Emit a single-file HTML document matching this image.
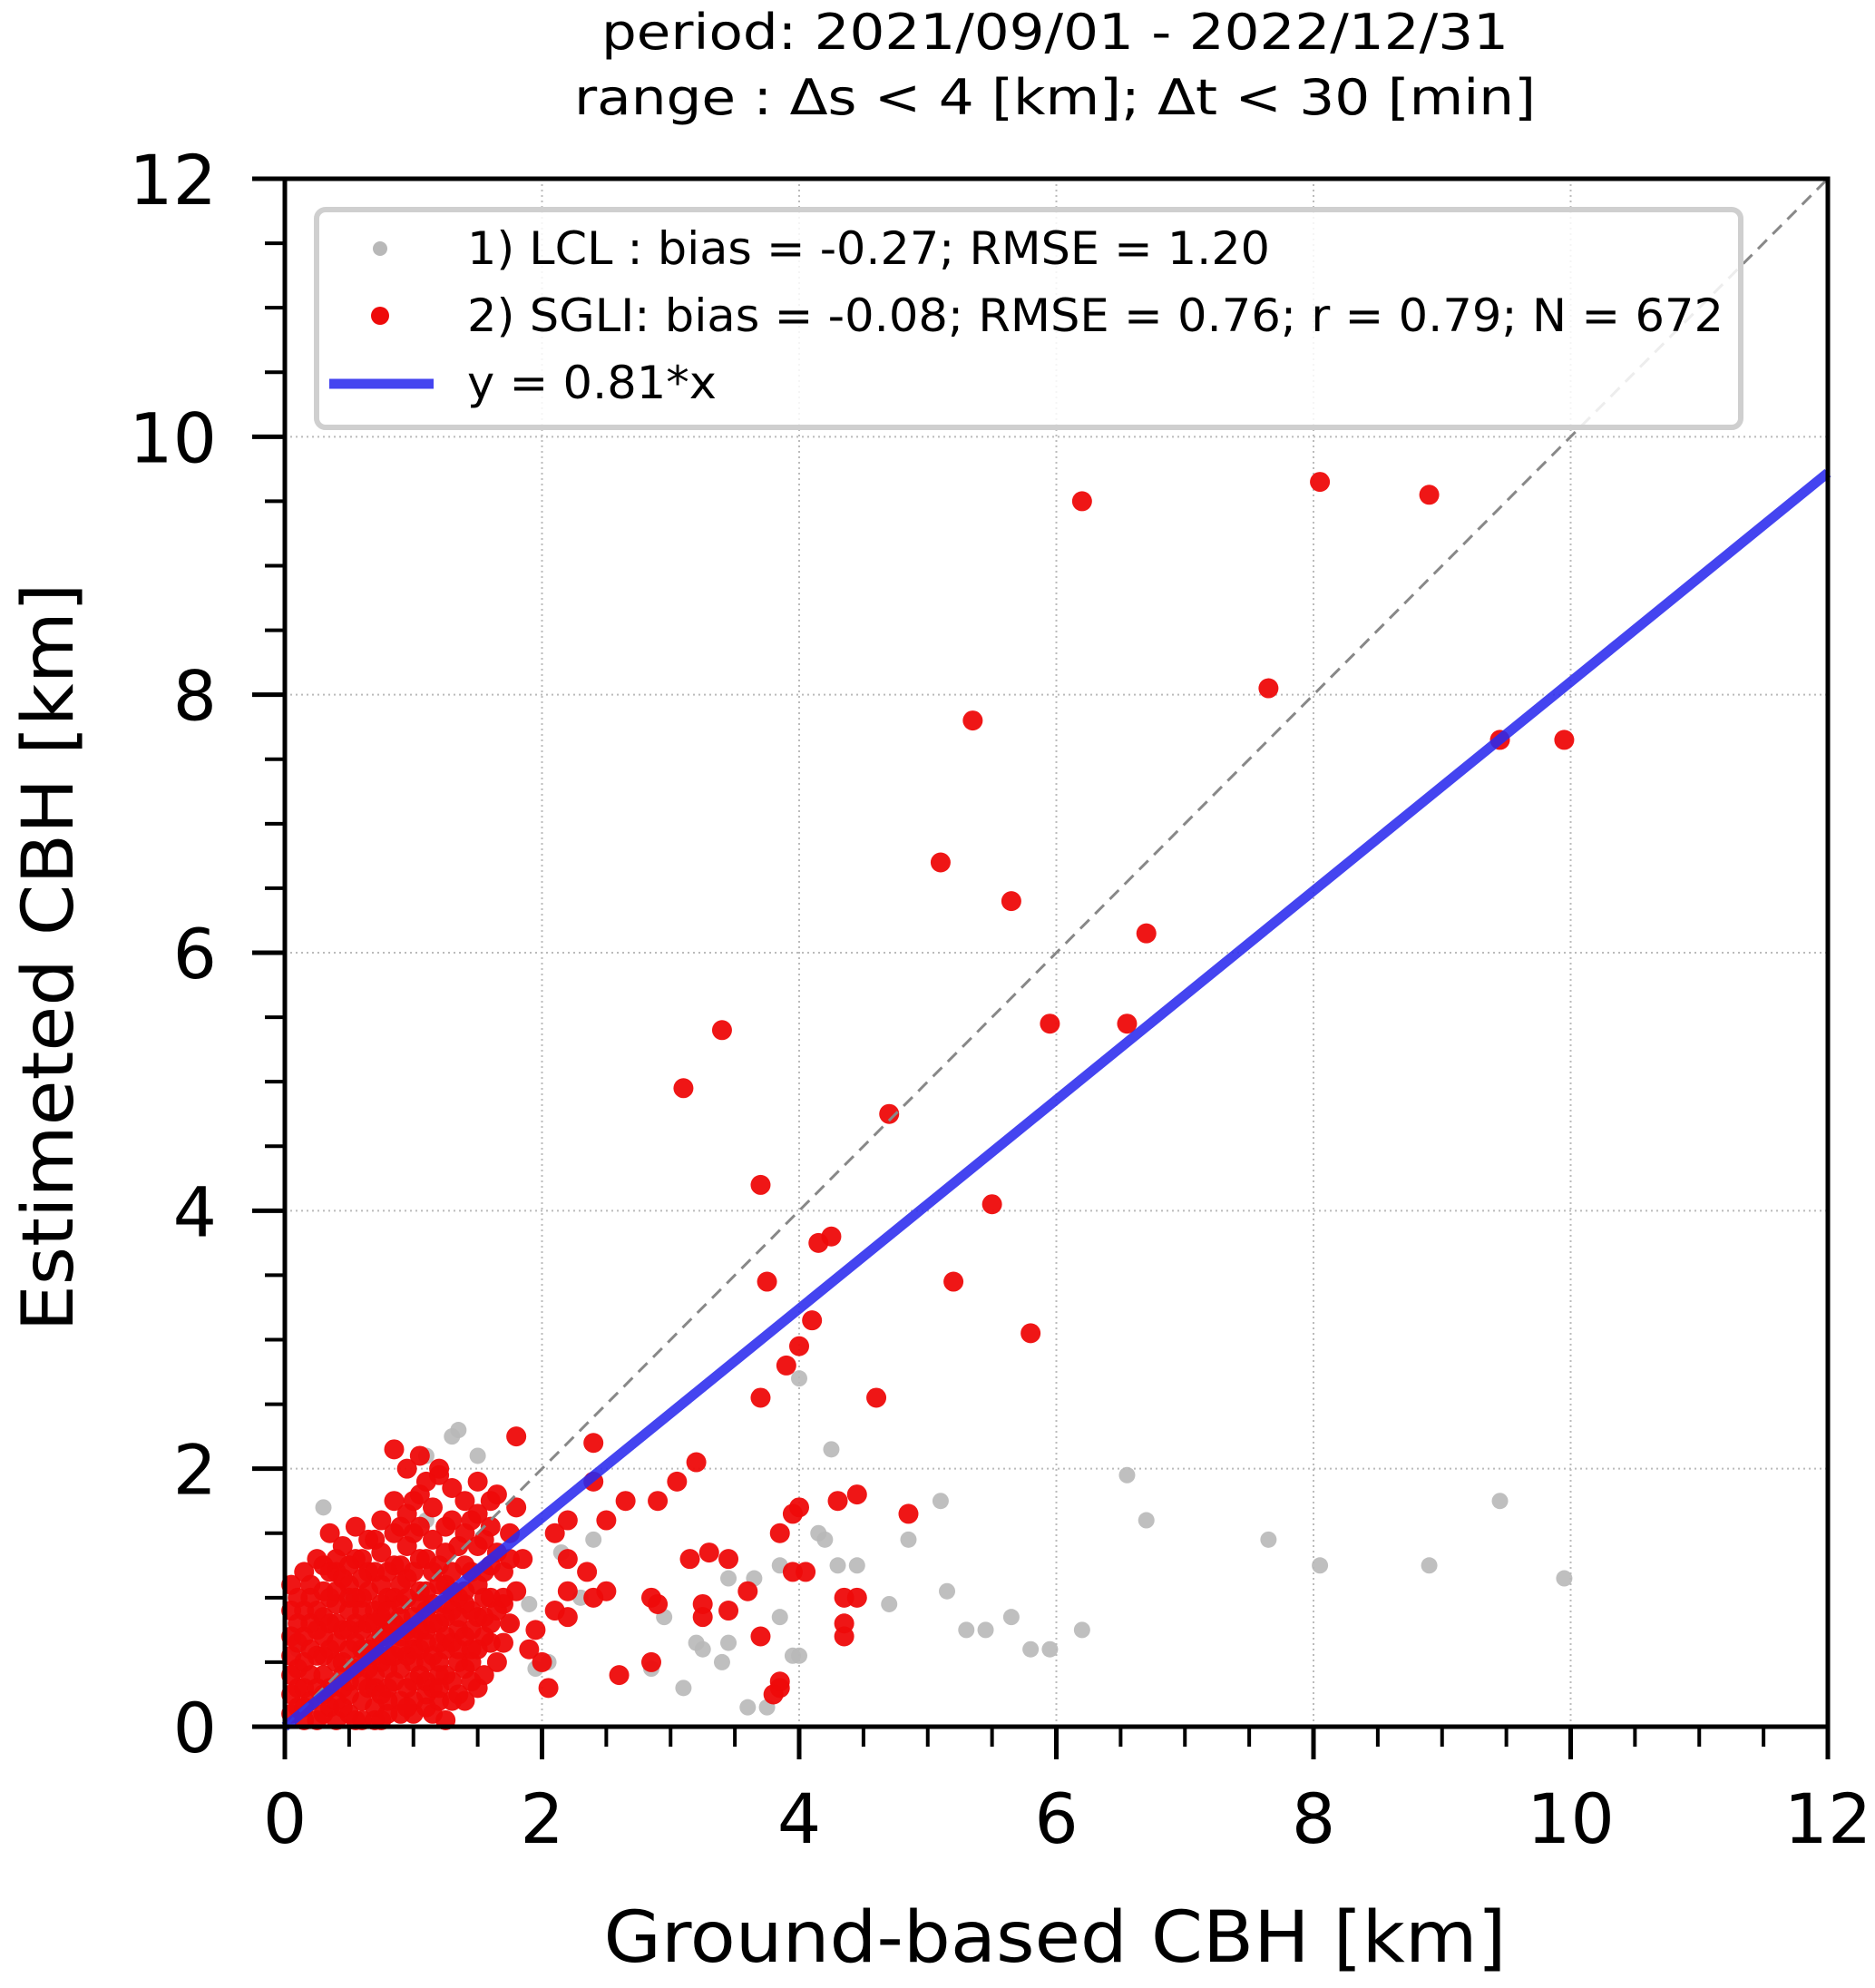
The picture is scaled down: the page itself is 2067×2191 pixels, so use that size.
<!DOCTYPE html>
<html><head><meta charset="utf-8"><style>
html,body{margin:0;padding:0;background:#fff;}
svg{display:block;font-family:"DejaVu Sans","Liberation Sans",sans-serif;}
</style></head><body>
<svg id="chart" width="2067" height="2191" viewBox="0 0 2067 2191" xmlns="http://www.w3.org/2000/svg">
<text x="1163" y="54" font-size="54" text-anchor="middle" textLength="1000" lengthAdjust="spacingAndGlyphs">period: 2021/09/01 - 2022/12/31</text>
<text x="1163" y="126" font-size="54" text-anchor="middle" textLength="1060" lengthAdjust="spacingAndGlyphs">range : Δs &lt; 4 [km]; Δt &lt; 30 [min]</text>
<text x="1163" y="2162" font-size="78" text-anchor="middle" textLength="995" lengthAdjust="spacingAndGlyphs">Ground-based CBH [km]</text>
<text transform="translate(80,1055) rotate(-90)" font-size="78" text-anchor="middle" textLength="825" lengthAdjust="spacingAndGlyphs">Estimeted CBH [km]</text>
<g id="grid"></g><g id="marks"></g><g id="axes"></g><g id="legend"></g>
</svg>
<script>
const xTicks=[0,2,4,6,8,10,12];
const yTicks=[0,2,4,6,8,10,12];
const fitSlope=0.81;
const lclX=[6.55,6.7,7.65,8.05,8.9,9.45,9.95,5.1,5.15,5.3,5.45,5.65,5.8,5.95,6.2,4.85,4.7,4.25,4.0,4.15,4.2,4.45,4.3,3.85,3.65,3.85,3.95,4.0,3.75,3.6,3.4,3.1,3.2,3.25,3.45,2.95,2.85,1.95,2.05,1.35,1.3,0.3,1.5,1.1,2.4,2.15,0.1,0.5,1.1,3.45,0.05,1.75,1.9,2.3,0.7];
const lclY=[1.95,1.6,1.45,1.25,1.25,1.75,1.15,1.75,1.05,0.75,0.75,0.85,0.6,0.6,0.75,1.45,0.95,2.15,2.7,1.5,1.45,1.25,1.25,1.25,1.15,0.85,0.55,0.55,0.15,0.15,0.5,0.3,0.65,0.6,0.65,0.85,0.45,0.45,0.5,2.3,2.25,1.7,2.1,2.1,1.45,1.35,0.6,1.0,1.6,1.15,0.7,0.8,0.95,1.0,0.3];
const sgliX=[6.2,8.05,8.9,7.65,5.35,9.95,9.45,5.1,5.65,6.7,5.95,6.55,3.4,3.1,4.7,3.7,5.5,4.25,4.15,3.75,5.2,4.1,5.8,4.0,3.9,3.7,4.6,2.4,1.8,3.2,3.05,2.4,2.65,2.9,4.45,4.3,4.0,3.95,4.85,2.5,2.2,2.1,3.85,3.15,3.3,3.45,2.2,2.35,3.6,3.95,4.05,4.35,4.45,2.85,2.9,3.25,3.25,3.45,2.5,2.4,2.2,2.1,1.95,3.7,4.35,4.35,2.85,2.0,2.05,2.6,3.85,3.85,3.8,1.9,2.2,
0.05,0.1,0.15,0.1,0.1,0.15,0.2,0.2,0.25,0.25,0.3,0.3,0.3,0.35,0.35,0.4,0.4,0.4,0.4,0.45,0.5,0.5,0.5,0.5,0.5,0.55,0.55,0.6,0.6,0.6,0.6,0.65,0.65,0.7,0.7,0.7,0.7,0.75,0.75,0.75,0.8,0.8,0.8,0.8,0.85,0.85,0.85,0.9,0.9,0.9,0.9,0.95,0.95,0.95,0.95,1.0,1.0,1.0,1.0,1.05,1.05,1.05,1.05,1.05,1.1,1.1,1.1,1.15,1.15,1.15,1.15,1.2,1.2,1.25,1.25,1.25,1.25,1.3,1.3,1.3,1.35,1.35,1.35,1.4,1.4,1.4,1.45,1.45,1.45,1.5,1.5,1.5,1.5,1.55,1.55,1.6,1.6,1.65,1.7,1.7,1.7,1.75,1.8,1.8,1.85,1.2,0.85,0.2,0.3,0.45,0.55,0.65,0.75,0.85,0.95,1.05,1.2,1.3,1.4,0.15,0.35,0.05,0.6,0.7,0.4,0.9,1.0,1.1,1.2,0.8,1.15,1.25,0.6,1.6,1.65,1.5];
const sgliY=[9.5,9.65,9.55,8.05,7.8,7.65,7.65,6.7,6.4,6.15,5.45,5.45,5.4,4.95,4.75,4.2,4.05,3.8,3.75,3.45,3.45,3.15,3.05,2.95,2.8,2.55,2.55,2.2,2.25,2.05,1.9,1.9,1.75,1.75,1.8,1.75,1.7,1.65,1.65,1.6,1.6,1.5,1.5,1.3,1.35,1.3,1.3,1.2,1.05,1.2,1.2,1.0,1.0,1.0,0.95,0.95,0.85,0.9,1.05,1.0,1.05,0.9,0.75,0.7,0.8,0.7,0.5,0.5,0.3,0.4,0.35,0.3,0.25,0.6,0.85,
0.1,0.3,0.5,0.8,1.0,1.2,0.2,0.6,0.9,1.3,0.1,0.4,0.7,1.0,1.5,0.2,0.5,0.8,1.2,1.4,0.1,0.35,0.6,0.9,1.1,1.3,1.55,0.2,0.5,0.75,1.0,1.2,1.45,0.15,0.4,0.65,0.9,1.1,1.35,1.6,0.3,0.55,0.8,1.0,1.25,1.5,1.75,0.2,0.45,0.7,0.95,1.15,1.4,1.65,2.0,0.1,0.35,0.6,0.85,1.05,1.3,1.55,1.8,2.1,0.25,0.5,0.75,0.95,1.2,1.45,1.7,1.95,0.4,0.6,0.85,1.1,1.35,1.6,1.85,0.2,0.5,0.75,1.0,1.25,1.5,1.75,0.35,0.6,0.9,1.1,1.4,1.65,1.9,0.7,1.0,1.25,1.55,1.8,0.65,0.95,1.2,1.5,1.7,1.05,1.3,2.0,2.15,1.1,1.25,0.3,0.8,0.6,0.85,1.0,0.55,0.75,0.65,1.05,0.95,0.05,0.15,0.4,1.3,1.2,0.95,1.25,1.5,1.05,1.25,0.1,0.1,0.05,0.05,0.8,0.5,0.3];
const clusterX=[0.05,0.05,0.05,0.05,0.05,0.1,0.1,0.1,0.15,0.15,0.15,0.2,0.2,0.2,0.25,0.25,0.25,0.25,0.3,0.3,0.3,0.35,0.35,0.35,0.35,0.4,0.4,0.4,0.45,0.45,0.45,0.45,0.5,0.5,0.5,0.55,0.55,0.55,0.55,0.6,0.6,0.6,0.65,0.65,0.65,0.65,0.7,0.7,0.7,0.7,0.75,0.75,0.75,0.75,0.8,0.8,0.8,0.8,0.8,0.85,0.85,0.85,0.9,0.9,0.9,0.9,0.95,0.95,0.95,1.0,1.0,1.0,1.0,1.05,1.05,1.05,1.1,1.1,1.1,1.1,1.1,1.15,1.15,1.15,1.2,1.2,1.2,1.2,1.25,1.25,1.25,1.3,1.3,1.3,1.3,1.35,1.35,1.35,1.4,1.4,1.4,1.45,1.45,1.45,1.5,1.5,1.55,1.55,1.6,1.6,1.65,1.65,1.7,1.75,1.75,0.15,0.3,0.45,0.6,0.75,0.95,1.2,1.4,1.55,1.25,1.35,1.45,1.55,1.6,0.9,1.0,1.1,0.7,0.5,0.4];
const clusterY=[0.25,0.55,0.7,0.9,1.1,0.15,0.45,0.65,0.3,0.7,0.9,0.4,0.8,1.0,0.05,0.3,0.55,0.75,0.55,0.85,1.05,0.3,0.6,0.8,1.2,0.05,0.65,1.05,0.15,0.5,0.75,1.15,0.25,0.75,1.0,0.05,0.45,0.65,1.0,0.35,0.9,1.15,0.3,0.45,0.8,1.05,0.05,0.3,0.55,0.8,0.25,0.5,0.7,0.95,0.2,0.45,0.7,0.9,1.2,0.35,0.55,0.8,0.1,0.6,0.85,1.1,0.3,0.75,1.0,0.2,0.5,0.7,1.2,0.4,0.6,0.95,0.15,0.35,0.65,0.9,1.3,0.3,0.55,0.8,0.2,0.5,0.8,1.1,0.4,0.7,0.95,0.35,0.65,0.9,1.2,0.25,0.6,0.85,0.45,0.7,1.05,0.5,0.75,1.2,0.6,0.85,0.85,1.2,1.0,0.65,0.9,1.35,1.0,0.8,1.3,0.15,0.25,0.4,0.6,0.05,0.15,0.3,0.2,0.4,1.55,1.4,1.6,1.45,1.75,1.55,1.75,1.9,1.45,1.25,1.3];

const NS='http://www.w3.org/2000/svg';
const L=314,R=2015,T=197,B=1903;
function sx(v){return L+(v-0)/(12-0)*(R-L);}
function sy(v){return B-(v-0)/(12-0)*(B-T);}
function mk(tag,attrs,parent){const e=document.createElementNS(NS,tag);for(const k in attrs)e.setAttribute(k,attrs[k]);parent.appendChild(e);return e;}
const grid=document.getElementById('grid'),marks=document.getElementById('marks'),axes=document.getElementById('axes'),leg=document.getElementById('legend');
xTicks.forEach(t=>{if(t>0&&t<12){const g=mk('line',{x1:sx(t),x2:sx(t),y1:T,y2:B,stroke:'#bbb','stroke-width':2,'stroke-dasharray':'2,4'},grid);

}});
yTicks.forEach(t=>{if(t>0&&t<12){const g=mk('line',{x1:L,x2:R,y1:sy(t),y2:sy(t),stroke:'#bbb','stroke-width':2,'stroke-dasharray':'2,4'},grid);

}});
lclX.forEach((x,i)=>{const c=mk('circle',{cx:sx(x),cy:sy(lclY[i]),r:9,fill:'#b8b8b8','fill-opacity':0.9},marks);

});
sgliX.forEach((x,i)=>{const c=mk('circle',{cx:sx(x),cy:sy(sgliY[i]),r:11,fill:'#ee0a0a','fill-opacity':0.95},marks);

});
clusterX.forEach((x,i)=>{const c=mk('circle',{cx:sx(x),cy:sy(clusterY[i]),r:11,fill:'#ee0a0a','fill-opacity':0.95},marks);

});
const d=mk('line',{x1:sx(0),y1:sy(0),x2:sx(12),y2:sy(12),stroke:'#888','stroke-width':3,'stroke-dasharray':'14,9'},marks);


const f=mk('line',{x1:sx(0),y1:sy(0),x2:sx(12),y2:sy(12*fitSlope),stroke:'#2a2aee','stroke-opacity':0.88,'stroke-width':11},marks);


const fr=mk('rect',{x:L,y:T,width:R-L,height:B-T,fill:'none',stroke:'#000','stroke-width':5},axes);


for(let v=0;v<=12.001;v+=0.5){const maj=Math.abs(v-Math.round(v/2)*2)<1e-6;const len=maj?36:22;const w=maj?5:4;
const a=mk('line',{x1:sx(v),x2:sx(v),y1:B,y2:B+len,stroke:'#000','stroke-width':w},axes);


const b=mk('line',{x1:L,x2:L-len,y1:sy(v),y2:sy(v),stroke:'#000','stroke-width':w},axes);

}
xTicks.forEach(t=>{const e=mk('text',{x:sx(t),y:B+128,'font-size':76,'text-anchor':'middle'},axes);e.textContent=t;

});
yTicks.forEach(t=>{const e=mk('text',{x:L-75,y:sy(t)+28,'font-size':76,'text-anchor':'end'},axes);e.textContent=t;

});
const box=mk('rect',{x:349,y:231,width:1570,height:240,rx:10,fill:'#fff','fill-opacity':0.85,stroke:'#cfcfcf','stroke-width':6},leg);


const m1=mk('circle',{cx:419,cy:274,r:8,fill:'#b8b8b8'},leg);


const m2=mk('circle',{cx:419,cy:348,r:10,fill:'#ee0a0a'},leg);


const m3=mk('line',{x1:363,x2:478,y1:423,y2:423,stroke:'#2a2aee','stroke-opacity':0.88,'stroke-width':11},leg);


const t1=mk('text',{x:515,y:291,'font-size':50,textLength:885,lengthAdjust:'spacingAndGlyphs'},leg);t1.textContent='1) LCL : bias = -0.27; RMSE = 1.20';


const t2=mk('text',{x:515,y:365,'font-size':50,textLength:1385,lengthAdjust:'spacingAndGlyphs'},leg);t2.textContent='2) SGLI: bias = -0.08; RMSE = 0.76; r = 0.79; N = 672';


const t3=mk('text',{x:515,y:439,'font-size':50,textLength:275,lengthAdjust:'spacingAndGlyphs'},leg);t3.textContent='y = 0.81*x';


</script>
</body></html>
